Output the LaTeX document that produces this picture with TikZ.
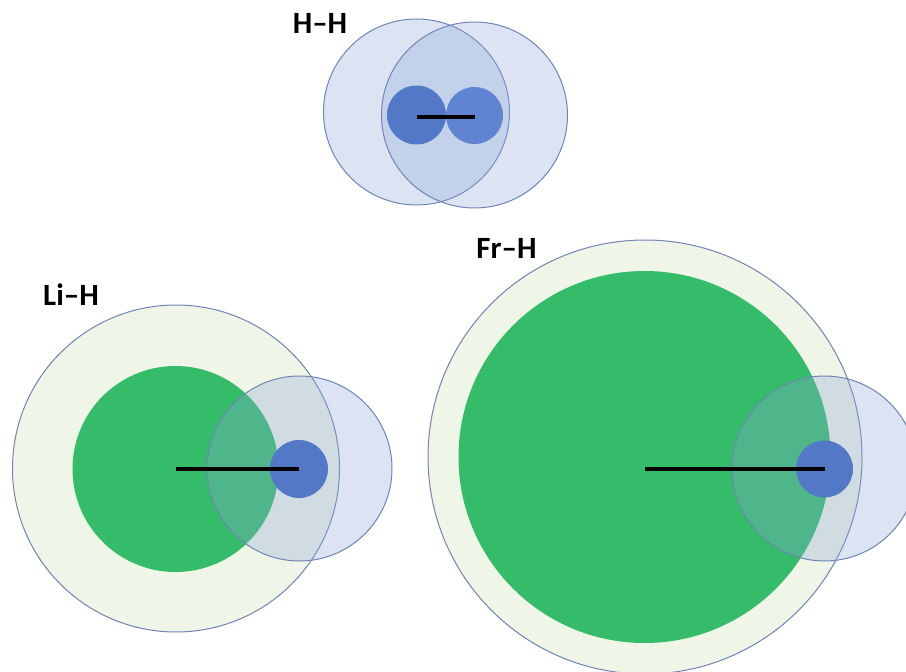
\documentclass[tikz,border=0pt]{standalone}
\usepackage{fontspec}
\setsansfont{Carlito}
\newlength{\du}
\setlength{\du}{0.02cm}
\definecolor{shellgreen}{RGB}{239,245,231}
\definecolor{coregreen}{RGB}{53,188,106}
\definecolor{cloudblue}{RGB}{140,165,215}
\definecolor{rimblue}{RGB}{112,132,182}
\definecolor{nucleusblue}{RGB}{84,120,200}
\definecolor{nucleuslight}{RGB}{96,132,210}
\tikzset{
  shell/.style={circle, draw=rimblue, line width=1\du, fill=shellgreen, inner sep=0pt},
  core/.style={circle, fill=coregreen, inner sep=0pt},
  cloud/.style={circle, draw=rimblue, line width=1\du, fill=cloudblue, fill opacity=0.3, inner sep=0pt},
  nucleus/.style={circle, fill=nucleusblue, inner sep=0pt},
  bond/.style={line width=3.5\du, black},
  molname/.style={font=\sffamily\bfseries\fontsize{17.6pt}{20pt}\selectfont, inner sep=0pt}
}

\begin{document}
\begin{tikzpicture}
\pgftransformyscale{-1.000000}
\useasboundingbox (0\du,0\du) rectangle (906\du,672\du);
% H-H
\node[molname] (hhname) at (320\du,23\du) {H–H};
\node[cloud, minimum size=186\du] (hhcloudA) at (416.5\du,112\du) {};
\node[cloud, minimum size=186\du] (hhcloudB) at (474.5\du,115\du) {};
\node[nucleus, minimum size=59\du] (hhnucA) at (416.5\du,115\du) {};
\node[nucleus, fill=nucleuslight, minimum size=57\du] (hhnucB) at (474.5\du,115.5\du) {};
\draw[bond] ([yshift=2\du]hhnucA.center) -- ([yshift=2\du]hhnucA.center -| hhnucB.center);
% Li-H
\node[molname] (lihname) at (71\du,295\du) {Li–H};
\node[shell, minimum size=327\du] (lishell) at (176\du,468.5\du) {};
\node[core, minimum size=206\du] (licore) at (175.5\du,469\du) {};
\node[cloud, minimum size=185\du] (licloud) at (299.5\du,468.5\du) {};
\node[nucleus, minimum size=58\du] (linuc) at (299\du,469\du) {};
\draw[bond] (licore.center) -- (linuc.center);
% Fr-H
\node[molname] (frhname) at (506.5\du,248\du) {Fr–H};
\node[shell, minimum size=434\du] (frshell) at (645\du,457\du) {};
\node[core, minimum size=372\du] (frcore) at (644.5\du,457\du) {};
\node[cloud, minimum size=185\du] (frcloud) at (824.5\du,468.5\du) {};
\node[nucleus, minimum size=57\du] (frnuc) at (824.5\du,469\du) {};
\draw[bond] (frcore.center |- frnuc.center) -- (frnuc.center);
\end{tikzpicture}
\end{document}
